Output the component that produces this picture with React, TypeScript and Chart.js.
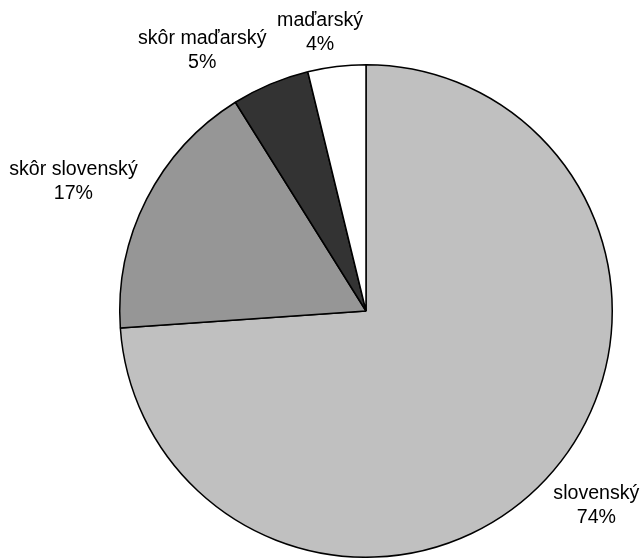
import React, { useEffect, useRef } from "react";
import { Chart, registerables } from "chart.js";

Chart.register(...registerables);

const categories: string[] = ["slovenský", "skôr slovenský", "skôr maďarský", "maďarský"];
const shares: number[] = [73.9, 17.2, 5.1, 3.8];
const sliceColors: string[] = ["#C0C0C0", "#969696", "#333333", "#FFFFFF"];

const FONT = '19.6px "Liberation Sans", Arial, sans-serif';
const LINE_H = 24;
const GAP = 10;
const KX = 3;
const KY = 1.2;

const clamp = (v: number) => Math.max(-1, Math.min(1, v));

const outsideLabels = {
  id: "outsideLabels",
  afterDatasetsDraw(chart: any) {
    const ctx: CanvasRenderingContext2D = chart.ctx;
    const meta = chart.getDatasetMeta(0);
    const data: number[] = chart.data.datasets[0].data;
    const total = data.reduce((a, b) => a + b, 0);
    ctx.save();
    ctx.font = FONT;
    ctx.fillStyle = "#000000";
    ctx.textAlign = "center";
    ctx.textBaseline = "middle";
    meta.data.forEach((arc: any, i: number) => {
      const { x, y, startAngle, endAngle, outerRadius } = arc.getProps(
        ["x", "y", "startAngle", "endAngle", "outerRadius"],
        true
      );
      const mid = (startAngle + endAngle) / 2;
      const dx = Math.cos(mid);
      const dy = Math.sin(mid);
      const ax = x + (outerRadius + GAP) * dx;
      const ay = y + (outerRadius + GAP) * dy;
      const lines = [
        String(chart.data.labels[i]),
        Math.round((data[i] / total) * 100) + "%",
      ];
      const w = Math.max(...lines.map((l) => ctx.measureText(l).width));
      const h = lines.length * LINE_H;
      const fx = 0.5 - 0.5 * clamp(dx * KX);
      const fy = 0.5 - 0.5 * clamp(dy * KY);
      const left = ax - fx * w;
      const top = ay - fy * h;
      lines.forEach((l, j) => {
        ctx.fillText(l, left + w / 2, top + LINE_H * (j + 0.5));
      });
    });
    ctx.restore();
  },
};

export default function App() {
  const ref = useRef<HTMLCanvasElement | null>(null);
  useEffect(() => {
    if (!ref.current) return;
    const chart = new Chart(ref.current, {
      type: "pie",
      data: {
        labels: categories,
        datasets: [
          {
            data: shares,
            backgroundColor: sliceColors,
            borderColor: "#000000",
            borderWidth: 1.5,
          },
        ],
      },
      options: {
        responsive: false,
        animation: false,
        layout: { padding: { left: 119, top: 64, right: 30, bottom: 0 } },
        plugins: {
          legend: { display: false },
          tooltip: { enabled: false },
        },
      },
      plugins: [outsideLabels],
    });
    return () => chart.destroy();
  }, []);
  return (
    <div style={{ position: "fixed", left: 0, top: 0, width: 643, height: 558, background: "#fff" }}>
      <canvas ref={ref} width={643} height={558} />
    </div>
  );
}
